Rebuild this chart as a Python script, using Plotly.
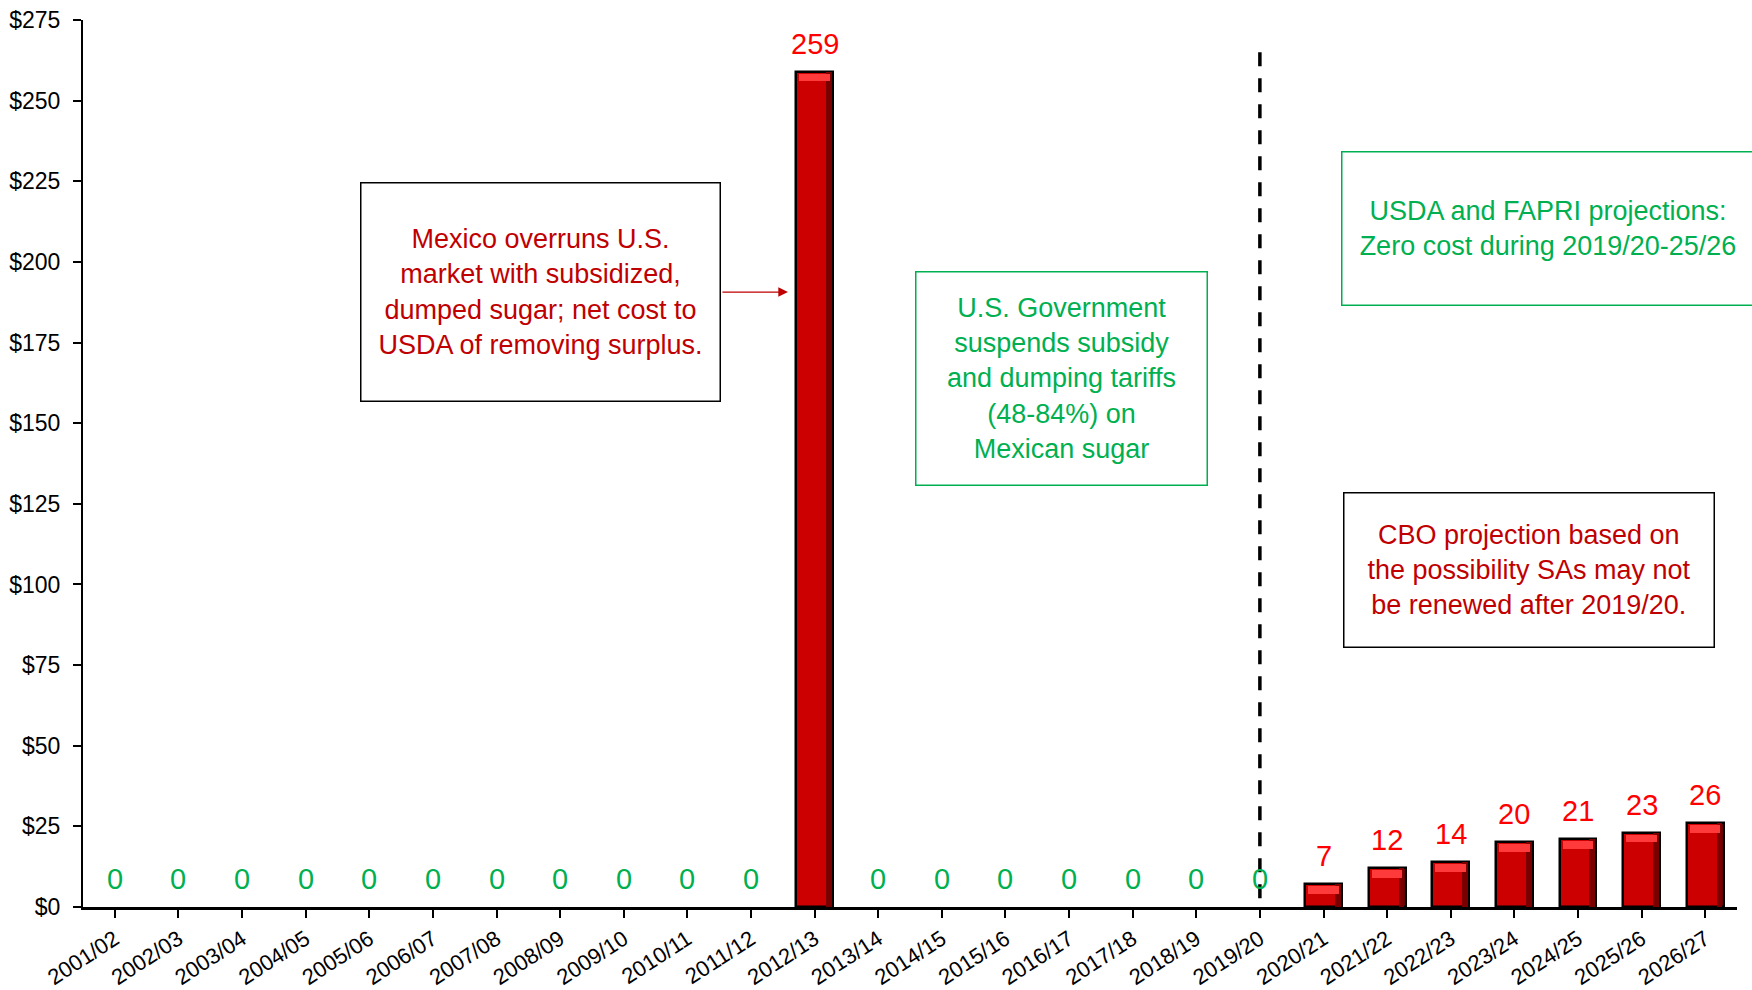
import plotly.graph_objects as go

# Crop years and net program cost (million dollars)
years = ["2001/02", "2002/03", "2003/04", "2004/05", "2005/06", "2006/07", "2007/08",
         "2008/09", "2009/10", "2010/11", "2011/12", "2012/13", "2013/14", "2014/15",
         "2015/16", "2016/17", "2017/18", "2018/19", "2019/20", "2020/21", "2021/22",
         "2022/23", "2023/24", "2024/25", "2025/26", "2026/27"]
cost = [0, 0, 0, 0, 0, 0, 0, 0, 0, 0, 0, 259, 0, 0, 0, 0, 0, 0, 0,
        7, 12, 14, 20, 21, 23, 26]

y_ticks = [0, 25, 50, 75, 100, 125, 150, 175, 200, 225, 250, 275]
y_tick_labels = ["$" + str(v) for v in y_ticks]

projection_start = "2019/20"

FONT = "Liberation Sans Narrow, Arial Narrow, Liberation Sans, Arial, sans-serif"
DARK_RED = "#C00000"
RED = "#FF0000"
GREEN = "#00B050"
BAR_W = 0.58

bar_x = [y for y, v in zip(years, cost) if v > 0]
bar_v = [v for v in cost if v > 0]

fig = go.Figure()

# main bars
fig.add_trace(go.Bar(
    x=bar_x, y=bar_v, width=BAR_W,
    marker=dict(color="#CC0000", line=dict(color="black", width=2.5)),
    hoverinfo="x+y", showlegend=False,
))
# darker shading along the right edge of each bar
fig.add_trace(go.Bar(
    x=bar_x, y=bar_v, width=0.09, offset=BAR_W / 2 - 0.11,
    marker=dict(color="#7A0000", line=dict(width=0)),
    hoverinfo="skip", showlegend=False,
))
# bevel highlight at the top of each bar
fig.add_trace(go.Bar(
    x=bar_x, y=[2.4] * len(bar_v), base=[v - 3.0 for v in bar_v],
    width=BAR_W - 0.1,
    marker=dict(color="#FF3A3A", line=dict(width=0)),
    hoverinfo="skip", showlegend=False,
))

# value labels: red for costs, green for zero
for yr, v in zip(years, cost):
    fig.add_annotation(
        x=yr, y=v, xref="x", yref="y", text=str(v), showarrow=False,
        yanchor="bottom", yshift=10,
        font=dict(family=FONT, size=29, color=RED if v > 0 else GREEN),
    )

# projection boundary (drawn top-down so the dash pattern starts at the top)
fig.add_shape(
    type="line", xref="x", yref="y",
    x0=years.index(projection_start), x1=years.index(projection_start),
    y0=265, y1=0,
    line=dict(color="black", width=3.5, dash="14px,12px"),
)

box_font = 27


def text_box(x, y, text, w, h, border, color):
    fig.add_annotation(
        xref="paper", yref="paper", x=x, y=y, xanchor="center", yanchor="middle",
        text=text, showarrow=False, width=w, height=h, borderpad=0,
        bordercolor=border, borderwidth=1.5, bgcolor="white",
        font=dict(family=FONT, size=box_font, color=color),
    )


text_box(0.2763, 0.6939,
         "Mexico overruns U.S.<br>market with subsidized,<br>dumped sugar; net cost to<br>USDA of removing surplus.",
         358, 217, "black", DARK_RED)
fig.add_annotation(
    xref="paper", yref="paper", x=0.4262, y=0.6933, ax=-67, ay=0,
    text="", showarrow=True, arrowhead=2, arrowsize=1.6, arrowwidth=1.2,
    arrowcolor=DARK_RED,
)
text_box(0.5916, 0.5958,
         "U.S. Government<br>suspends subsidy<br>and dumping tariffs<br>(48-84%) on<br>Mexican sugar",
         290, 212, GREEN, GREEN)
text_box(0.8857, 0.765,
         "USDA and FAPRI projections:<br>Zero cost during 2019/20-25/26",
         411, 152, GREEN, GREEN)
text_box(0.8742, 0.3799,
         "CBO projection based on<br>the possibility SAs may not<br>be renewed after 2019/20.",
         369, 153, "black", DARK_RED)

fig.update_layout(
    width=1752, height=990,
    margin=dict(l=83, r=15, t=20, b=83),
    paper_bgcolor="white", plot_bgcolor="white",
    barmode="overlay", bargap=0,
    font=dict(family=FONT, color="black"),
    showlegend=False,
)
fig.update_xaxes(
    type="category", categoryorder="array", categoryarray=years,
    range=[-0.5, len(years) - 0.5], automargin=False,
    showline=True, linecolor="black", linewidth=2.5,
    ticks="outside", ticklen=8, tickwidth=1.5, tickcolor="black",
    tickangle=-33, tickfont=dict(family=FONT, size=22, color="black"),
    showgrid=False, zeroline=False,
)
fig.update_yaxes(
    range=[0, 275], tickvals=y_ticks, ticktext=y_tick_labels, automargin=False,
    showline=True, linecolor="black", linewidth=2,
    ticks="outside", ticklen=8, tickwidth=1.5, tickcolor="black",
    ticklabelstandoff=8,
    tickfont=dict(family=FONT, size=23, color="black"),
    showgrid=False, zeroline=False,
)

fig.write_html("out.html")
